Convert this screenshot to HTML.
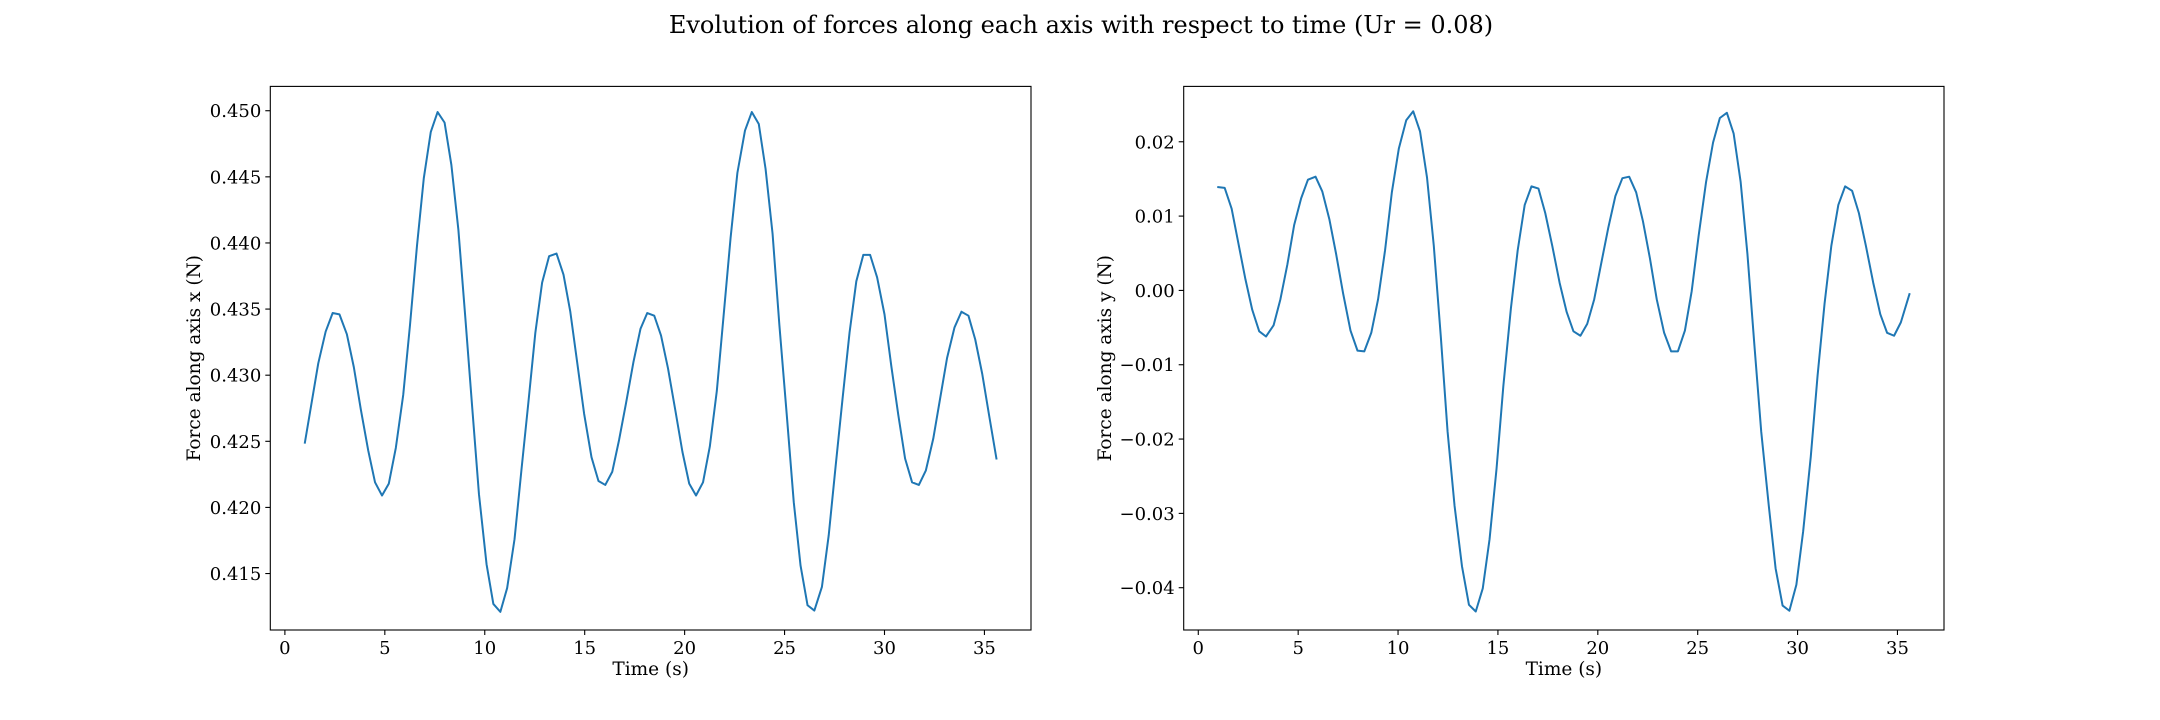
<!DOCTYPE html>
<html><head><meta charset="utf-8">
<style>
html,body{margin:0;padding:0;background:#fff;}
svg{display:block;font-family:"DejaVu Serif","Liberation Serif",serif;}
</style></head>
<body>
<svg id="fig" width="2160" height="720" viewBox="0 0 2160 720" xmlns="http://www.w3.org/2000/svg">
<rect width="2160" height="720" fill="#fff"/>
<text x="1081" y="33" font-size="24" text-anchor="middle" fill="#000">Evolution of forces along each axis with respect to time (Ur = 0.08)</text>
</svg>
<script>
const timeX = [1.0,1.67,2.04,2.39,2.73,3.1,3.45,3.8,4.17,4.51,4.86,5.2,5.55,5.92,6.26,6.61,6.95,7.3,7.64,7.99,8.33,8.68,9.02,9.37,9.71,10.09,10.43,10.78,11.12,11.49,11.84,12.18,12.53,12.87,13.22,13.59,13.94,14.28,14.63,14.97,15.34,15.69,16.03,16.38,16.72,17.07,17.44,17.79,18.13,18.48,18.82,19.17,19.54,19.89,20.23,20.57,20.92,21.26,21.61,21.95,22.3,22.64,23.02,23.36,23.71,24.05,24.4,24.74,25.11,25.46,25.8,26.15,26.49,26.87,27.21,27.56,27.9,28.25,28.59,28.94,29.28,29.63,30.0,30.34,30.69,31.03,31.38,31.72,32.07,32.44,32.79,33.13,33.5,33.85,34.2,34.54,34.89,35.23,35.6];
const forceX = [0.4249,0.4309,0.4333,0.4347,0.4346,0.4331,0.4306,0.4274,0.4243,0.4219,0.4209,0.4218,0.4245,0.4285,0.4338,0.4398,0.4449,0.4484,0.4499,0.4491,0.4459,0.4410,0.4345,0.4276,0.4210,0.4157,0.4127,0.4121,0.4139,0.4176,0.4229,0.4279,0.4332,0.4370,0.4390,0.4392,0.4376,0.4348,0.4309,0.4271,0.4238,0.4220,0.4217,0.4227,0.4251,0.4279,0.4310,0.4335,0.4347,0.4345,0.4330,0.4305,0.4273,0.4242,0.4218,0.4209,0.4219,0.4246,0.4288,0.4345,0.4404,0.4453,0.4485,0.4499,0.4490,0.4456,0.4407,0.4338,0.4270,0.4204,0.4156,0.4126,0.4122,0.4140,0.4179,0.4232,0.4282,0.4332,0.4371,0.4391,0.4391,0.4374,0.4346,0.4307,0.4270,0.4237,0.4219,0.4217,0.4228,0.4252,0.4283,0.4313,0.4336,0.4348,0.4345,0.4327,0.4301,0.4270,0.4237];
const timeY = [1.0,1.32,1.67,2.01,2.36,2.7,3.05,3.39,3.77,4.11,4.46,4.8,5.15,5.49,5.87,6.21,6.56,6.9,7.25,7.62,7.97,8.31,8.66,9.0,9.35,9.69,10.04,10.41,10.76,11.1,11.45,11.79,12.14,12.48,12.83,13.2,13.55,13.89,14.24,14.58,14.93,15.27,15.65,15.99,16.34,16.68,17.03,17.37,17.72,18.09,18.44,18.78,19.13,19.47,19.82,20.16,20.53,20.88,21.23,21.57,21.92,22.26,22.61,22.95,23.32,23.67,24.01,24.36,24.7,25.05,25.42,25.77,26.11,26.46,26.8,27.15,27.49,27.84,28.18,28.56,28.9,29.25,29.59,29.94,30.28,30.66,31.0,31.35,31.69,32.04,32.38,32.73,33.07,33.42,33.79,34.14,34.48,34.83,35.17,35.6];
const forceY = [0.0139,0.0138,0.0110,0.0063,0.0015,-0.0026,-0.0055,-0.0062,-0.0047,-0.0012,0.0035,0.0088,0.0124,0.0149,0.0153,0.0133,0.0096,0.0049,-0.0004,-0.0054,-0.0081,-0.0082,-0.0057,-0.0012,0.0054,0.0132,0.0191,0.0229,0.0241,0.0214,0.0152,0.0060,-0.0062,-0.0190,-0.0290,-0.0371,-0.0423,-0.0432,-0.0401,-0.0335,-0.0240,-0.0129,-0.0024,0.0054,0.0115,0.0140,0.0137,0.0104,0.0060,0.0010,-0.0029,-0.0055,-0.0061,-0.0045,-0.0012,0.0035,0.0085,0.0127,0.0151,0.0153,0.0132,0.0093,0.0043,-0.0012,-0.0057,-0.0082,-0.0082,-0.0054,-0.0001,0.0074,0.0146,0.0199,0.0232,0.0239,0.0211,0.0146,0.0049,-0.0074,-0.0190,-0.0290,-0.0374,-0.0424,-0.0431,-0.0396,-0.0324,-0.0224,-0.0115,-0.0018,0.0060,0.0115,0.0140,0.0134,0.0104,0.0060,0.0010,-0.0032,-0.0057,-0.0061,-0.0043,-0.0005];
const xTicks = [0,5,10,15,20,25,30,35];
const yTicksX = [0.415,0.420,0.425,0.430,0.435,0.440,0.445,0.450];
const yTickLabelsX = ["0.415","0.420","0.425","0.430","0.435","0.440","0.445","0.450"];
const yTicksY = [-0.04,-0.03,-0.02,-0.01,0.00,0.01,0.02];
const yTickLabelsY = ["\u22120.04","\u22120.03","\u22120.02","\u22120.01","0.00","0.01","0.02"];

const NS = "http://www.w3.org/2000/svg";
const fig = document.getElementById('fig');
function mk(tag, attrs, parent){
  const e = document.createElementNS(NS, tag);
  for (const k in attrs) e.setAttribute(k, attrs[k]);
  (parent||fig).appendChild(e);
  return e;
}
function panel(opts){
  const L=opts.left, R=opts.right, T=86.4, B=630;
  const g = mk('g', {});
  
  
  const xs = v => L + (v - opts.xmin) / (opts.xmax - opts.xmin) * (R - L);
  const ys = v => B - (v - opts.ymin) / (opts.ymax - opts.ymin) * (B - T);
  let d = '';
  opts.t.forEach((t,i)=>{ d += (i?'L':'M') + xs(t).toFixed(2) + ',' + ys(opts.v[i]).toFixed(2); });
  const line = mk('path', {d:d, fill:'none', stroke:'#1f77b4', 'stroke-width':2, 'stroke-linejoin':'round', 'stroke-linecap':'square'}, g);
  
  
  const fr = mk('rect', {x:L, y:T, width:R-L, height:B-T, fill:'none', stroke:'#000', 'stroke-width':1.1}, g);
  
  
  xTicks.forEach(v=>{
    const x = xs(v);
    mk('line', {x1:x, x2:x, y1:B, y2:B+5, stroke:'#000', 'stroke-width':1.1}, g);
    const tx = mk('text', {x:x, y:B+24, 'font-size':18, 'text-anchor':'middle', fill:'#000'}, g);
    tx.textContent = String(v);
    
    
  });
  opts.yt.forEach((v,i)=>{
    const y = ys(v);
    mk('line', {x1:L-5, x2:L, y1:y, y2:y, stroke:'#000', 'stroke-width':1.1}, g);
    const tx = mk('text', {x:L-9, y:y+6.5, 'font-size':18, 'text-anchor':'end', fill:'#000'}, g);
    tx.textContent = opts.yl[i];
    
    
  });
  const xl = mk('text', {x:(L+R)/2, y:675, 'font-size':18.5, 'text-anchor':'middle', fill:'#000'}, g);
  xl.textContent = 'Time (s)';
  
  
  const cy = (T+B)/2;
  const yl = mk('text', {x:opts.ylabelX, y:cy, 'font-size':18.5, 'text-anchor':'middle', fill:'#000', transform:'rotate(-90 '+opts.ylabelX+' '+cy+')'}, g);
  yl.textContent = opts.ylabel;
  
  
}
panel({name:'force-x-chart', left:270.3, right:1031, xmin:-0.73, xmax:37.33, ymin:0.41073, ymax:0.45184, t:timeX, v:forceX, yt:yTicksX, yl:yTickLabelsX, ylabel:'Force along axis x (N)', ylabelX:200});
panel({name:'force-y-chart', left:1183.7, right:1944, xmin:-0.73, xmax:37.33, ymin:-0.04569, ymax:0.02745, t:timeY, v:forceY, yt:yTicksY, yl:yTickLabelsY, ylabel:'Force along axis y (N)', ylabelX:1111});
</script>
</body></html>
